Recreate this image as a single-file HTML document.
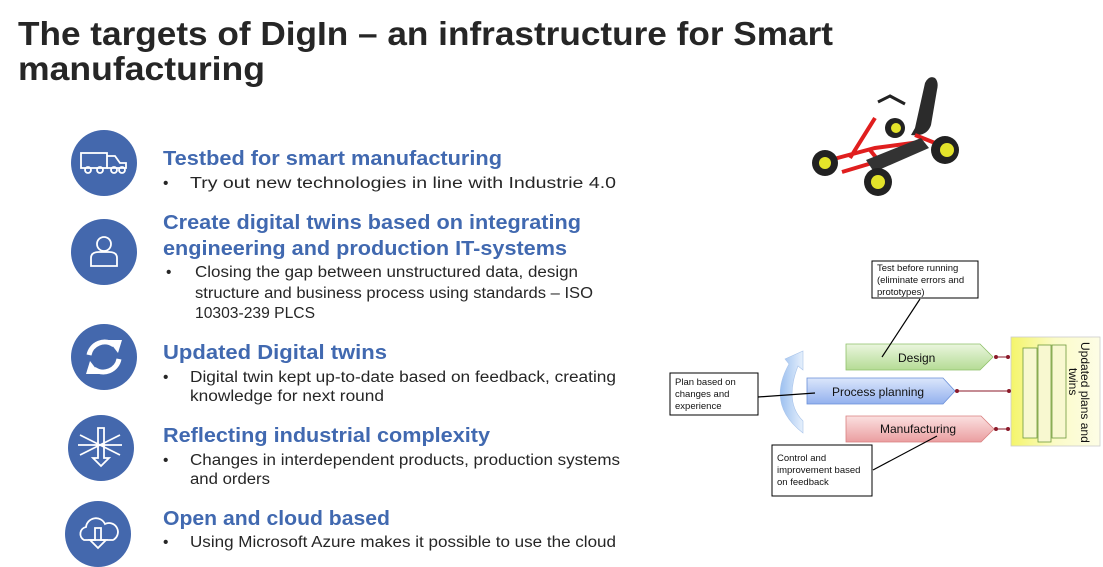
<!DOCTYPE html>
<html><head><meta charset="utf-8"><style>
html,body{margin:0;padding:0;background:#fff;width:1103px;height:567px;overflow:hidden}
svg{display:block}
.t{font-family:"Liberation Sans",sans-serif;font-weight:bold;fill:#262626;font-size:33px}
.h{font-family:"Liberation Sans",sans-serif;font-weight:bold;fill:#4169b0;font-size:20px}
.b{font-family:"Liberation Sans",sans-serif;fill:#262626;font-size:15.5px}
.s{font-family:"Liberation Sans",sans-serif;fill:#111;font-size:9.5px}
.m{font-family:"Liberation Sans",sans-serif;fill:#111;font-size:12px}
</style></head><body>
<svg width="1103" height="567" viewBox="0 0 1103 567" xmlns="http://www.w3.org/2000/svg">
<defs>
<linearGradient id="gg" x1="0" y1="0" x2="0" y2="1"><stop offset="0" stop-color="#eaf6de"/><stop offset="1" stop-color="#b5dc95"/></linearGradient>
<linearGradient id="gb" x1="0" y1="0" x2="0" y2="1"><stop offset="0" stop-color="#dbe6fb"/><stop offset="1" stop-color="#93b1ee"/></linearGradient>
<linearGradient id="gr" x1="0" y1="0" x2="0" y2="1"><stop offset="0" stop-color="#fbe0e0"/><stop offset="1" stop-color="#ea9ea0"/></linearGradient>
<linearGradient id="gy" x1="0" y1="0" x2="1" y2="0"><stop offset="0" stop-color="#f4f56a"/><stop offset="0.5" stop-color="#fbfbc8"/><stop offset="1" stop-color="#fdfde6"/></linearGradient>
<linearGradient id="ga" x1="0" y1="0" x2="1" y2="0"><stop offset="0" stop-color="#9cc0f0"/><stop offset="1" stop-color="#e6f0fc"/></linearGradient>
</defs>
<text class="t" x="18" y="45" textLength="815" lengthAdjust="spacingAndGlyphs">The targets of DigIn – an infrastructure for Smart</text>
<text class="t" x="18" y="80" textLength="247" lengthAdjust="spacingAndGlyphs">manufacturing</text>

<g fill="#4468ad">
<circle cx="104" cy="163" r="33"/><circle cx="104" cy="252" r="33"/><circle cx="104" cy="357" r="33"/><circle cx="101" cy="448" r="33"/><circle cx="98" cy="534" r="33"/>
</g>
<g fill="none" stroke="#fff" stroke-width="1.8">
<rect x="81" y="153" width="26" height="15"/><path d="M107 156h8l5 7h6v5h-19"/>
<circle cx="88" cy="170" r="3"/><circle cx="100" cy="170" r="3"/><circle cx="114" cy="170" r="3"/><circle cx="122" cy="170" r="3"/>
<circle cx="104" cy="244" r="7"/><path d="M91 266v-8q0-6 8-6h10q8 0 8 6v8z"/>
<path d="M89 355a16 16 0 0 1 25-10" stroke-width="5"/>
<path d="M119 359a16 16 0 0 1 -25 10" stroke-width="5"/>
<path d="M108 340l14 0-4 13z" fill="#fff" stroke="none"/>
<path d="M100 374l-14 0 4-13z" fill="#fff" stroke="none"/>
<path d="M98 428v30h-5l8 8 8-8h-5v-30z"/><path d="M80 435l40 20M80 455l40-20M78 445h44"/>
<path d="M84 540a7 7 0 0 1 2-13a10 10 0 0 1 19-3a8 8 0 0 1 8 16z"/><path d="M95 528v12h-5l8 8 8-8h-5v-12z"/>
</g>

<text class="h" x="163" y="165" textLength="339" lengthAdjust="spacingAndGlyphs">Testbed for smart manufacturing</text>
<text class="b" x="163" y="188">•</text><text class="b" x="190" y="188" textLength="426" lengthAdjust="spacingAndGlyphs">Try out new technologies in line with Industrie 4.0</text>
<text class="h" x="163" y="229" textLength="418" lengthAdjust="spacingAndGlyphs">Create digital twins based on integrating</text>
<text class="h" x="163" y="255" textLength="404" lengthAdjust="spacingAndGlyphs">engineering and production IT-systems</text>
<text class="b" x="166" y="277">•</text><text class="b" x="195" y="277" textLength="383" lengthAdjust="spacingAndGlyphs">Closing the gap between unstructured data, design</text>
<text class="b" x="195" y="298" textLength="398" lengthAdjust="spacingAndGlyphs">structure and business process using standards – ISO</text>
<text class="b" x="195" y="318" textLength="120" lengthAdjust="spacingAndGlyphs">10303-239 PLCS</text>
<text class="h" x="163" y="359" textLength="224" lengthAdjust="spacingAndGlyphs">Updated Digital twins</text>
<text class="b" x="163" y="382">•</text><text class="b" x="190" y="382" textLength="426" lengthAdjust="spacingAndGlyphs">Digital twin kept up-to-date based on feedback, creating</text>
<text class="b" x="190" y="401" textLength="194" lengthAdjust="spacingAndGlyphs">knowledge for next round</text>
<text class="h" x="163" y="442" textLength="327" lengthAdjust="spacingAndGlyphs">Reflecting industrial complexity</text>
<text class="b" x="163" y="465">•</text><text class="b" x="190" y="465" textLength="430" lengthAdjust="spacingAndGlyphs">Changes in interdependent products, production systems</text>
<text class="b" x="190" y="484" textLength="80" lengthAdjust="spacingAndGlyphs">and orders</text>
<text class="h" x="163" y="525" textLength="227" lengthAdjust="spacingAndGlyphs">Open and cloud based</text>
<text class="b" x="163" y="547">•</text><text class="b" x="190" y="547" textLength="426" lengthAdjust="spacingAndGlyphs">Using Microsoft Azure makes it possible to use the cloud</text>

<!-- go-kart -->
<g>
<circle cx="895" cy="128" r="10" fill="#222"/><circle cx="896" cy="128" r="5" fill="#e3e32a"/>
<path d="M915 128l10-45q4-8 10-5q4 4 2 12l-6 35q-4 12-20 10z" fill="#2b2b2b"/>
<path d="M830 160l45-12 45-6 M875 118l-25 40 M842 172l40-12 M915 135l25 10 M870 150l12 15" stroke="#e01e1e" stroke-width="4" fill="none"/>
<path d="M866 160l55-22 8 10-55 24z" fill="#333"/>
<path d="M878 102l12-6 15 8" stroke="#222" stroke-width="3" fill="none"/>
<circle cx="825" cy="163" r="13" fill="#222"/><circle cx="825" cy="163" r="6" fill="#e3e32a"/>
<circle cx="878" cy="182" r="14" fill="#222"/><circle cx="878" cy="182" r="7" fill="#e3e32a"/>
<circle cx="945" cy="150" r="14" fill="#222"/><circle cx="947" cy="150" r="7" fill="#e3e32a"/>
</g>

<!-- diagram -->
<rect x="1011" y="337" width="89" height="109" fill="url(#gy)" stroke="#ccc" stroke-width="0.8"/>
<g fill="#f8f8d0" stroke="#6e9a3c" stroke-width="0.8">
<rect x="1023" y="348" width="14" height="90"/><rect x="1038" y="345" width="13" height="97"/><rect x="1052" y="345" width="14" height="93"/>
</g>
<text class="m" transform="translate(1081,342) rotate(90)" font-size="11.5">Updated plans and</text>
<text class="m" transform="translate(1069,368) rotate(90)" font-size="11.5">twins</text>

<path d="M846 344h134l13 13-13 13h-134z" fill="url(#gg)" stroke="#8fc06a" stroke-width="0.8"/>
<text class="m" x="898" y="362">Design</text>
<path d="M807 378h136l12 13-12 13h-136z" fill="url(#gb)" stroke="#6a8fd8" stroke-width="0.8"/>
<text class="m" x="832" y="396">Process planning</text>
<path d="M846 416h135l13 13-13 13h-135z" fill="url(#gr)" stroke="#d98080" stroke-width="0.8"/>
<text class="m" x="880" y="433">Manufacturing</text>

<g stroke="#8b1a2a" stroke-width="1" fill="#8b1a2a">
<line x1="995" y1="357" x2="1009" y2="357"/><circle cx="996" cy="357" r="1.5"/><circle cx="1008" cy="357" r="1.5"/>
<line x1="956" y1="391" x2="1010" y2="391"/><circle cx="957" cy="391" r="1.5"/><circle cx="1009" cy="391" r="1.5"/>
<line x1="995" y1="429" x2="1009" y2="429"/><circle cx="996" cy="429" r="1.5"/><circle cx="1008" cy="429" r="1.5"/>
</g>

<path d="M803 433Q766 405 789 364L785 359L803 351L803 370L798 366Q784 402 803 421Z" fill="url(#ga)" stroke="#a9c4ea" stroke-width="0.6"/>

<g stroke="#000" stroke-width="1.2">
<line x1="920" y1="299" x2="882" y2="357"/>
<line x1="758" y1="397" x2="815" y2="393"/>
<line x1="873" y1="470" x2="937" y2="436"/>
</g>
<g fill="#fff" stroke="#000" stroke-width="1">
<rect x="872" y="261" width="106" height="37"/>
<rect x="670" y="373" width="88" height="42"/>
<rect x="772" y="445" width="100" height="51"/>
</g>
<text class="s" x="877" y="271">Test before running</text>
<text class="s" x="877" y="283">(eliminate errors and</text>
<text class="s" x="877" y="295">prototypes)</text>
<text class="s" x="675" y="385">Plan based on</text>
<text class="s" x="675" y="397">changes and</text>
<text class="s" x="675" y="409">experience</text>
<text class="s" x="777" y="461">Control and</text>
<text class="s" x="777" y="473">improvement based</text>
<text class="s" x="777" y="485">on feedback</text>
</svg>
</body></html>
